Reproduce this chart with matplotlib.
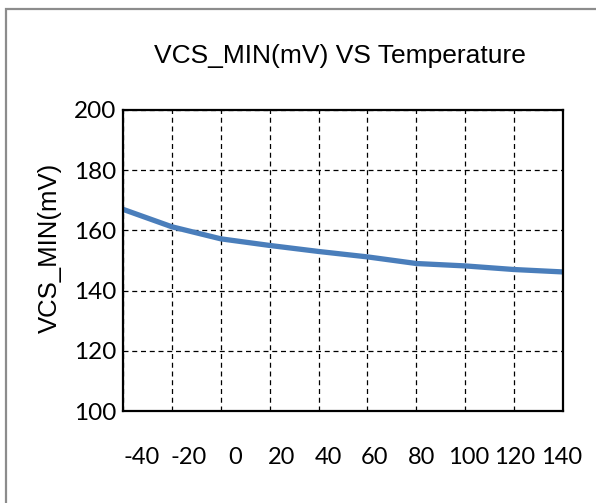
import matplotlib
matplotlib.use("Agg")
import matplotlib.pyplot as plt
from matplotlib.patches import Rectangle

# data
temps = [-40, -20, 0, 20, 40, 60, 80, 100, 120, 140]
vcs_min = [167, 161.2, 157.2, 155, 153, 151.2, 149, 148.2, 147, 146.2]
y_ticks = [100, 120, 140, 160, 180, 200]

fig = plt.figure(figsize=(5.96, 5.03), dpi=100)

# grey chart border
fig.patches.append(Rectangle((5.5 / 596, -0.01), 1.0, 1 - 9 / 503 + 0.01,
                             transform=fig.transFigure, fill=False,
                             edgecolor="#8c8c8c", linewidth=1.6))

ax = fig.add_axes([123 / 596, 1 - 411 / 503, 440 / 596, 301 / 503])
ax.plot(temps, vcs_min, color="#4a7ebb", linewidth=3.8, solid_capstyle="butt")

ax.set_xlim(-40, 140)
ax.set_ylim(100, 200)
ax.set_xticks(temps)
ax.set_yticks(y_ticks)
ax.grid(True, color="black", linestyle=(0, (4, 3)), linewidth=0.9)
for s in ax.spines.values():
    s.set_linewidth(1.6)
ax.tick_params(length=0, labelbottom=False)
ax.set_yticklabels([str(v) for v in y_ticks], family="Lato", fontsize=17.5)
ax.tick_params(axis="y", pad=5)

# Excel puts the category labels slightly off the grid lines
lab = ax.twiny()
lab.set_xlim(-48.0, 140.6)
lab.set_xticks(temps)
lab.set_xticklabels([str(t) for t in temps], family="Lato", fontsize=17)
lab.xaxis.set_ticks_position("bottom")
lab.xaxis.set_label_position("bottom")
lab.tick_params(length=0, pad=26)
for s in lab.spines.values():
    s.set_visible(False)

ax.set_ylabel("VCS_MIN(mV)", family="Liberation Sans", fontsize=18.5)
ax.yaxis.set_label_coords(50 / 596, 1 - 248 / 503, transform=fig.transFigure)
ax.yaxis.label.set_va("center")
fig.text(340 / 596, 1 - 63.5 / 503, "VCS_MIN(mV) VS Temperature",
         family="Liberation Sans", fontsize=19, ha="center", va="baseline")

fig.savefig("out.png", dpi=100)
